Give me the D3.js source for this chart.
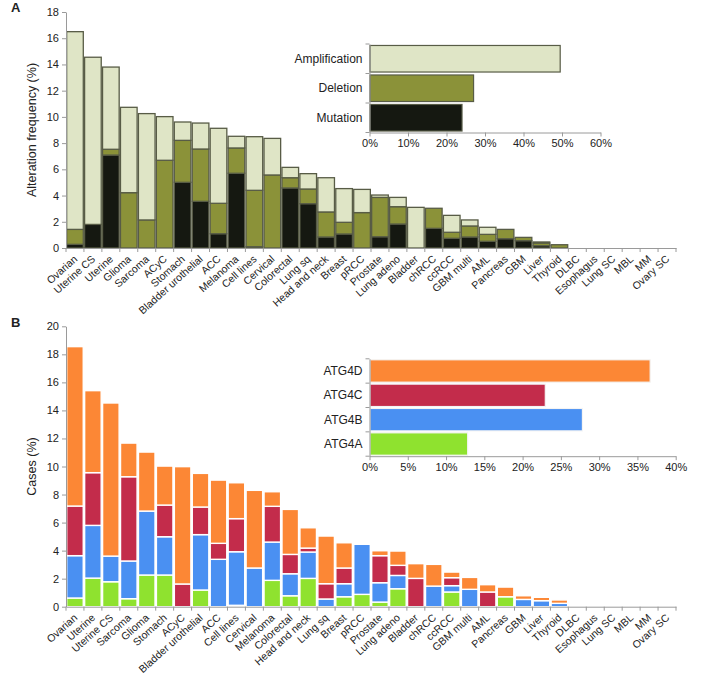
<!DOCTYPE html>
<html><head><meta charset="utf-8">
<script src="https://cdn.jsdelivr.net/npm/d3@7/dist/d3.min.js"></script>
<style>
body{margin:0;background:#fff;}
svg text{font-family:"Liberation Sans",Arial,Helvetica,sans-serif;fill:#222;}
</style></head>
<body><svg id="c" width="704" height="677"></svg>
<script>
// ---------- Panel A data ----------
const catsA = ["Ovarian","Uterine CS","Uterine","Glioma","Sarcoma","ACyC","Stomach","Bladder urothelial","ACC","Melanoma","Cell lines","Cervical","Colorectal","Lung sq","Head and neck","Breast","pRCC","Prostate","Lung adeno","Bladder","chRCC","ccRCC","GBM multi","AML","Pancreas","GBM","Liver","Thyroid","DLBC","Esophagus","Lung SC","MBL","MM","Ovary SC"];
const mutationA =     [0.28,1.8,7.09,0,0,0,5.01,3.56,1.09,5.7,0.1,0,4.58,3.38,0.84,1.07,0,0.86,1.83,0,1.5,0.74,0.84,0.51,0.71,0.56,0.18,0,0,0,0,0,0,0];
const deletionA =     [1.14,0,0.44,4.22,2.14,6.69,3.2,3.99,2.32,1.93,4.3,5.57,0.78,1.12,1.91,0.89,2.7,3.0,1.32,0,1.53,0.46,0.84,0.53,0.71,0.25,0.2,0.25,0,0,0,0,0,0];
const amplificationA =[15.08,12.75,6.27,6.51,8.11,3.33,1.4,1.98,5.72,0.89,4.09,2.79,0.79,1.17,2.61,2.57,1.77,0.18,0.71,3.1,0,1.29,0.46,0.54,0,0,0.08,0,0,0,0,0,0,0];
const seriesA = ["Mutation","Deletion","Amplification"];
const yTicksA = [0,2,4,6,8,10,12,14,16,18];
const insetCatsA = ["Amplification","Deletion","Mutation"];
const insetValsA = [49.4,26.9,23.9];
const insetTicksA = [0,10,20,30,40,50,60];

// ---------- Panel B data ----------
const catsB = ["Ovarian","Uterine","Uterine CS","Sarcoma","Glioma","Stomach","ACyC","Bladder urothelial","ACC","Cell lines","Cervical","Melanoma","Colorectal","Head and neck","Lung sq","Breast","pRCC","Prostate","Lung adeno","Bladder","chRCC","ccRCC","GBM multi","AML","Pancreas","GBM","Liver","Thyroid","DLBC","Esophagus","Lung SC","MBL","MM","Ovary SC"];
const atg4A = [0.62,2.04,1.78,0.57,2.26,2.26,0,1.19,0,0.1,0,1.88,0.78,2.02,0,0.71,0.88,0.33,1.28,0,0,1.05,0,0,0.71,0,0,0,0,0,0,0,0,0];
const atg4B = [3.02,3.76,1.83,2.69,4.56,2.73,0,3.95,3.38,3.82,2.76,2.73,1.57,1.88,0.55,0.93,3.57,1.38,0.95,0,1.47,0.45,1.24,0,0,0.52,0.43,0.24,0,0,0,0,0,0];
const atg4C = [3.54,3.76,0,6.01,0,2.26,1.62,1.97,1.14,2.36,0,2.55,1.38,0.28,1.09,1.12,0,1.93,0.72,2.02,0,0.57,0,1.05,0,0,0,0,0,0,0,0,0,0];
const atg4D = [11.37,5.85,10.92,2.4,4.21,2.78,8.37,2.4,4.51,2.56,5.54,1.04,3.21,1.45,3.4,1.8,0,0.35,1.02,1.05,1.55,0.4,0.85,0.52,0.69,0.26,0.24,0.24,0,0,0,0,0,0];
const seriesB = ["ATG4A","ATG4B","ATG4C","ATG4D"];
const yTicksB = [0,2,4,6,8,10,12,14,16,18,20];
const insetCatsB = ["ATG4D","ATG4C","ATG4B","ATG4A"];
const insetValsB = [36.6,22.9,27.75,12.76];
const insetTicksB = [0,5,10,15,20,25,30,35,40];

const colA = {"Mutation":"#151811","Deletion":"#8b9239","Amplification":"#dfe5c6"};
const colB = {"ATG4A":"#8fe22f","ATG4B":"#4a90f2","ATG4C":"#c32c4b","ATG4D":"#fc8735"};
const axisCol = "#9a9a9a";

const svg = d3.select("#c");

function styleAxis(g){
  g.selectAll(".domain").attr("stroke",axisCol);
  g.selectAll(".tick line").attr("stroke",axisCol);
  g.selectAll(".tick text").attr("fill","#222").style("font-family","Liberation Sans, Arial, sans-serif");
}

function panel(opts){
  const {cats, seriesNames, values, colors, yMax, yTicks, y0, y1, stroke, strokeW, yLabel, letter, letterY,
         insetCats, insetVals, insetTicks, insetMax, insetY0, insetY1, insetPadIn, insetStroke} = opts;
  const x = d3.scaleBand().domain(cats).range([66,676]).paddingInner(0).paddingOuter(0);
  const y = d3.scaleLinear().domain([0,yMax]).range([y0,y1]);
  const rows = cats.map((c,i)=>{ const r={cat:c}; seriesNames.forEach((s,k)=>r[s]=values[k][i]); return r;});
  const stack = d3.stack().keys(seriesNames)(rows);
  const g = svg.append("g");
  g.selectAll("g.s").data(stack).join("g").attr("fill",d=>colors[d.key])
    .selectAll("rect").data(d=>d.filter(v=>v[1]-v[0]>0.001)).join("rect")
    .attr("x",d=>x(d.data.cat)+strokeW/2).attr("width",x.bandwidth()-strokeW)
    .attr("y",d=>y(d[1])).attr("height",d=>y(d[0])-y(d[1]))
    .attr("stroke",stroke).attr("stroke-width",strokeW);
  // y axis
  const ya = g.append("g").attr("transform","translate(66,0)")
    .call(d3.axisLeft(y).tickValues(yTicks).tickSize(4).tickPadding(3).tickSizeOuter(0));
  ya.selectAll("text").style("font-size","11px");
  styleAxis(ya);
  // x axis with labels
  const xa = g.append("g").attr("transform",`translate(0,${y0})`)
    .call(d3.axisBottom(x).tickSize(0).tickSizeOuter(0));
  styleAxis(xa);
  xa.selectAll(".tick text").style("font-size","10.5px").attr("text-anchor","end")
    .attr("dy",0).attr("y",0)
    .attr("transform","translate(3,12) rotate(-42)");
  // boundary ticks
  g.append("g").selectAll("line").data(cats.concat([null])).join("line")
    .attr("x1",(d,i)=> i<cats.length ? x(d) : x(cats[cats.length-1])+x.bandwidth())
    .attr("x2",(d,i)=> i<cats.length ? x(d) : x(cats[cats.length-1])+x.bandwidth())
    .attr("y1",y0).attr("y2",y0+4).attr("stroke",axisCol);
  // y label
  svg.append("text").attr("transform",`translate(36,${(y0+y1)/2}) rotate(-90)`)
    .attr("text-anchor","middle").style("font-size","12.5px").text(yLabel);
  svg.append("text").attr("x",11).attr("y",letterY).style("font-size","13px").style("font-weight","bold").text(letter);
  // inset
  const ix = d3.scaleLinear().domain([0,insetMax]).range([369.5,insetMax===60?600.5:675.7]);
  const iy = d3.scaleBand().domain(insetCats).range([insetY0,insetY1]).paddingInner(insetPadIn).paddingOuter(insetPadIn/2);
  const ig = svg.append("g");
  ig.selectAll("rect").data(insetCats).join("rect")
    .attr("x",ix(0)+0.5).attr("y",d=>iy(d)).attr("height",iy.bandwidth())
    .attr("width",(d,i)=>ix(insetVals[i])-ix(0)).attr("fill",d=>colors[d])
    .attr("stroke",insetStroke).attr("stroke-width",1.2);
  const ixa = ig.append("g").attr("transform",`translate(0,${insetY1})`)
    .call(d3.axisBottom(ix).tickValues(insetTicks).tickFormat(d=>d+"%").tickSize(4).tickSizeOuter(0));
  ixa.selectAll("text").style("font-size","11px");
  styleAxis(ixa);
  const iya = ig.append("g").attr("transform",`translate(${ix(0)},0)`)
    .call(d3.axisLeft(iy).tickSize(0).tickPadding(7));
  iya.selectAll("text").style("font-size","12px");
  styleAxis(iya);
  // boundary ticks on inset y axis
  const bounds = insetCats.map(c=>iy(c)-iy.step()*insetPadIn/2).concat([insetY1]);
  ig.append("g").selectAll("line").data(bounds).join("line")
    .attr("x1",ix(0)-4).attr("x2",ix(0)).attr("y1",d=>d).attr("y2",d=>d).attr("stroke",axisCol);
}

panel({cats:catsA, seriesNames:seriesA, values:[mutationA,deletionA,amplificationA], colors:colA,
  yMax:18, yTicks:yTicksA, y0:248, y1:12, stroke:"#585c46", strokeW:1.3,
  yLabel:"Alteration frequency (%)", letter:"A", letterY:12,
  insetCats:insetCatsA, insetVals:insetValsA, insetTicks:insetTicksA, insetMax:60,
  insetY0:44, insetY1:132.5, insetPadIn:0.1, insetStroke:"#585c46"});

panel({cats:catsB, seriesNames:seriesB, values:[atg4A,atg4B,atg4C,atg4D], colors:colB,
  yMax:20, yTicks:yTicksB, y0:606.7, y1:326.3, stroke:"#ffffff", strokeW:1.4,
  yLabel:"Cases (%)", letter:"B", letterY:327,
  insetCats:insetCatsB, insetVals:insetValsB, insetTicks:insetTicksB, insetMax:40,
  insetY0:358.8, insetY1:456.2, insetPadIn:0.08, insetStroke:"#f4f4f4"});
</script></body></html>
